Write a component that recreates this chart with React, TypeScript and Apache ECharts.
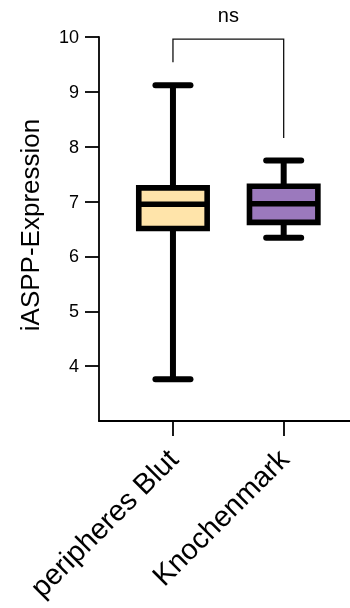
import React, { useEffect, useRef } from 'react';
import * as echarts from 'echarts';

const categories = ['peripheres Blut', 'Knochenmark'];
const whiskerMin = [3.76, 6.34];
const q1 = [6.51, 6.62];
const median = [6.95, 6.96];
const q3 = [7.25, 7.28];
const whiskerMax = [9.12, 7.75];
const fillColors = ['#FFE4AA', '#9B79BD'];
const yTicks = [4, 5, 6, 7, 8, 9, 10];
const bracketTop = 9.96;
const bracketLegEnds = [9.54, 8.16];
const sigLabel = 'ns';

const FONT = '"Liberation Sans", Arial, Helvetica, sans-serif';

export default function App() {
  const ref = useRef<HTMLDivElement>(null);
  useEffect(() => {
    if (!ref.current) return;
    const chart = echarts.init(ref.current, null, { renderer: 'svg' });
    const boxData = categories.map((_, i) => [i + 1, whiskerMin[i], q1[i], median[i], q3[i], whiskerMax[i]]);
    const bracketData = [[1, 2, bracketTop, bracketLegEnds[0], bracketLegEnds[1]]];
    chart.setOption({
      animation: false,
      grid: { left: 99, right: 0, top: 37, bottom: 187 },
      xAxis: {
        type: 'value',
        min: 0.332,
        max: 2.599,
        splitLine: { show: false },
        axisLine: { show: true, onZero: false, lineStyle: { color: '#000', width: 1.8 } },
        axisTick: { show: true, customValues: [1, 2], length: 15, lineStyle: { color: '#000', width: 1.8 } },
        axisLabel: {
          customValues: [1, 2],
          formatter: (v: number) => categories[Math.round(v) - 1] ?? '',
          rotate: 45,
          fontSize: 29,
          fontFamily: FONT,
          color: '#000',
          margin: 33,
        },
      },
      yAxis: {
        type: 'value',
        min: 3,
        max: 10,
        interval: 1,
        splitLine: { show: false },
        axisLine: { show: true, onZero: false, lineStyle: { color: '#000', width: 1.8 } },
        axisTick: { show: true, customValues: yTicks, length: 14, lineStyle: { color: '#000', width: 1.8 } },
        axisLabel: { customValues: yTicks, fontSize: 18, fontFamily: FONT, color: '#000', margin: 20 },
        name: 'iASPP-Expression',
        nameLocation: 'middle',
        nameRotate: 90,
        nameGap: 56,
        nameTextStyle: { fontSize: 26, fontFamily: FONT, color: '#000', padding: [0, 0, 0, 8] },
      },
      series: [
        {
          type: 'custom',
          data: boxData,
          encode: { x: 0, y: [1, 2, 3, 4, 5] },
          renderItem: (params: any, api: any) => {
            const x = api.value(0);
            const cx = api.coord([x, api.value(1)])[0];
            const yMin = api.coord([x, api.value(1)])[1];
            const yQ1 = api.coord([x, api.value(2)])[1];
            const yMed = api.coord([x, api.value(3)])[1];
            const yQ3 = api.coord([x, api.value(4)])[1];
            const yMax = api.coord([x, api.value(5)])[1];
            const hb = 34.2;
            const hc = 17.5;
            const ws = { stroke: '#000', lineWidth: 6 };
            const cs = { stroke: '#000', lineWidth: 6, lineCap: 'round' };
            return {
              type: 'group',
              children: [
                { type: 'line', shape: { x1: cx, y1: yMax, x2: cx, y2: yQ3 }, style: ws },
                { type: 'line', shape: { x1: cx, y1: yQ1, x2: cx, y2: yMin }, style: ws },
                { type: 'line', shape: { x1: cx - hc, y1: yMax, x2: cx + hc, y2: yMax }, style: cs },
                { type: 'line', shape: { x1: cx - hc, y1: yMin, x2: cx + hc, y2: yMin }, style: cs },
                {
                  type: 'rect',
                  shape: { x: cx - hb, y: yQ3, width: hb * 2, height: yQ1 - yQ3 },
                  style: { fill: fillColors[params.dataIndex], stroke: '#000', lineWidth: 5.6 },
                },
                { type: 'line', shape: { x1: cx - hb, y1: yMed, x2: cx + hb, y2: yMed }, style: { stroke: '#000', lineWidth: 5.6 } },
              ],
            };
          },
          z: 3,
        },
        {
          type: 'custom',
          data: bracketData,
          encode: { x: [0, 1], y: [2, 3, 4] },
          clip: false,
          renderItem: (_params: any, api: any) => {
            const p1 = api.coord([api.value(0), api.value(3)]);
            const p1t = api.coord([api.value(0), api.value(2)]);
            const p2t = api.coord([api.value(1), api.value(2)]);
            const p2 = api.coord([api.value(1), api.value(4)]);
            return {
              type: 'group',
              children: [
                {
                  type: 'polyline',
                  shape: { points: [p1, p1t, p2t, p2] },
                  style: { stroke: '#111', lineWidth: 1.3, fill: 'none' },
                },
                {
                  type: 'text',
                  x: (p1t[0] + p2t[0]) / 2,
                  y: p1t[1] - 24,
                  style: {
                    text: sigLabel,
                    fontSize: 20,
                    fontFamily: FONT,
                    fill: '#000',
                    align: 'center',
                    verticalAlign: 'middle',
                  },
                },
              ],
            };
          },
          z: 4,
        },
      ],
    });
    return () => chart.dispose();
  }, []);
  return <div ref={ref} style={{ position: 'fixed', left: 0, top: 0, width: 350, height: 608 }} />;
}
